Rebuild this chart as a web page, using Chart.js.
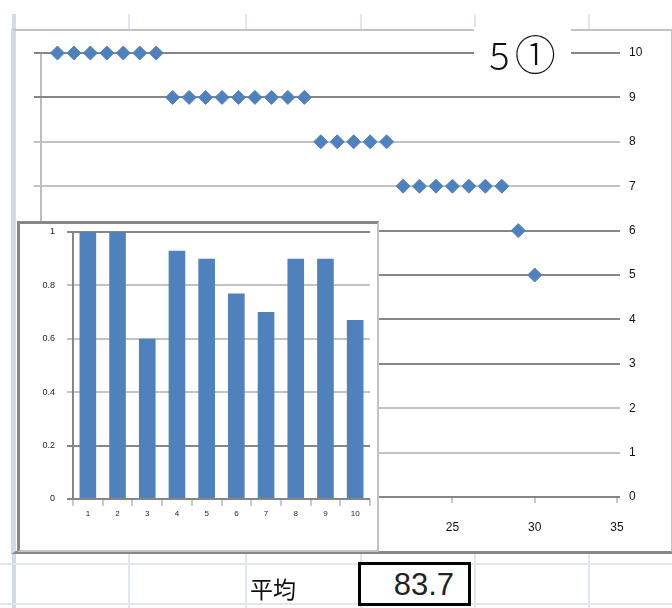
<!DOCTYPE html>
<html>
<head>
<meta charset="utf-8">
<script src="https://cdn.jsdelivr.net/npm/chart.js@4.4.1/dist/chart.umd.min.js"></script>
<style>
  body { margin: 0; width: 672px; height: 608px; position: relative; overflow: hidden; background: #fff; font-family: "Liberation Sans", sans-serif; }
  .vl { position: absolute; top: 14px; bottom: 0; width: 2px; background: #dfe6ef; }
  .hl { position: absolute; left: 0; right: 0; height: 2px; background: #dfe6ef; }
  #marco { position: absolute; left: 11px; top: 29px; width: 655px; height: 520px; background: #fff;
           border-top: 2px solid #c2c2c2; border-right: 2px solid #c2c2c2; border-bottom: 3px solid #878787; border-left: 5px solid #d0dbe7; }
  #principal { position: absolute; left: 0; top: 0; }
  #titulo { position: absolute; left: 474px; top: 27px; width: 97px; height: 50px; background: #fff;
            display: flex; align-items: center; justify-content: center;
            font-family: "Noto Sans CJK JP", sans-serif; color: #111; }
  #titulo .n { font-size: 38px; font-weight: 300; margin-right: 5px; margin-top: 2px; }
  #titulo .c { font-size: 41px; font-weight: 300; }
  #recuadro { position: absolute; left: 17px; top: 221px; width: 357px; height: 326px; background: #fff;
              border-top: 3px solid #878787; border-left: 3px solid #878787; border-right: 2px solid #c2c2c2; border-bottom: 2px solid #c2c2c2; }
  #barras { position: absolute; left: 0; top: 0; }
  #etiqueta { position: absolute; left: 250px; top: 571px; font-family: "Noto Sans CJK JP", sans-serif; font-size: 23px; color: #111; }
  #promedio { position: absolute; left: 358px; top: 562px; width: 107px; height: 38px; border: 3px solid #000; background: #fff;
              font-size: 31px; line-height: 40px; text-align: right; color: #222; }
  #promedio span { margin-right: 14px; }
</style>
</head>
<body>
<div class="vl" style="left:12px;width:4px;background:#d0dbe7"></div>
<div class="vl" style="left:128px"></div>
<div class="vl" style="left:245px"></div>
<div class="vl" style="left:360px"></div>
<div class="vl" style="left:474px"></div>
<div class="vl" style="left:588px"></div>
<div class="hl" style="top:563px"></div>
<div class="hl" style="top:603px"></div>

<div id="marco"></div>
<canvas id="principal" width="672" height="608"></canvas>
<div id="titulo"><span class="n">5</span><span class="c">①</span></div>
<div id="recuadro"><canvas id="barras" width="357" height="326"></canvas></div>
<div id="etiqueta">平均</div>
<div id="promedio"><span id="valorPromedio"></span></div>

<script>
// puntaje de cada alumno (numero -> puntaje)
const numeros = [1, 2, 3, 4, 5, 6, 7, 8, 9, 10, 11, 12, 13, 14, 15, 16, 17, 18, 19, 20, 21, 22, 23, 24, 25, 26, 27, 28, 29, 30];
const puntajes = [10, 10, 10, 10, 10, 10, 10, 9, 9, 9, 9, 9, 9, 9, 9, 9, 8, 8, 8, 8, 8, 7, 7, 7, 7, 7, 7, 7, 6, 5];

// tasa de aciertos por pregunta
const preguntas = ["1", "2", "3", "4", "5", "6", "7", "8", "9", "10"];
const aciertos = [1, 1, 0.6, 0.93, 0.9, 0.77, 0.7, 0.9, 0.9, 0.67];

const promedio = "83.7";

const azul = "#4f81bd";
const oscuro = "#868686";
const claro = "#c2c2c2";

document.getElementById("valorPromedio").textContent = promedio;

// Excel dibuja unas lineas mas oscuras que otras
function colorLineaPrincipal(v) {
  return [0, 3, 4, 5, 6, 9, 10].includes(v) ? oscuro : claro;
}

const puntos = numeros.map((n, i) => ({ x: n, y: puntajes[i] }));

new Chart(document.getElementById("principal"), {
  type: "scatter",
  data: {
    datasets: [{
      data: puntos,
      pointStyle: "rectRot",
      pointRadius: 7,
      backgroundColor: azul,
      borderColor: azul,
      borderWidth: 1,
      clip: false
    }]
  },
  options: {
    responsive: false,
    animation: false,
    layout: { padding: { left: 34, top: 53, right: 15, bottom: 71 } },
    plugins: { legend: { display: false }, tooltip: { enabled: false } },
    scales: {
      x: {
        type: "linear",
        min: 0,
        max: 35,
        ticks: { stepSize: 5, color: "#111", font: { size: 12 }, padding: 17 },
        grid: {
          color: c => (c.tick && c.tick.value === 0 ? "#bdbdbd" : "rgba(0,0,0,0)"),
          tickColor: "#c8c8c8",
          lineWidth: 2,
          tickLength: 6
        },
        border: { display: false },
        afterFit: s => { s.height = 40; }
      },
      y: {
        position: "right",
        min: 0,
        max: 10,
        ticks: { stepSize: 1, color: "#111", font: { size: 12 }, padding: 9 },
        grid: { color: c => colorLineaPrincipal(c.tick.value), lineWidth: 2, tickLength: 3 },
        border: { display: false },
        afterFit: s => { s.width = 40; }
      },
      yIzq: {
        position: "left",
        min: 0,
        max: 10,
        ticks: { stepSize: 1, display: false },
        grid: { drawOnChartArea: false, color: c => colorLineaPrincipal(c.tick.value), lineWidth: 2, tickLength: 7 },
        border: { display: false },
        afterFit: s => { s.width = 7; }
      }
    }
  }
});

const coloresBarras = [oscuro, oscuro, claro, claro, claro, oscuro];

new Chart(document.getElementById("barras"), {
  type: "bar",
  data: {
    labels: preguntas,
    datasets: [{
      data: aciertos,
      backgroundColor: azul,
      categoryPercentage: 1,
      barPercentage: 0.56
    }]
  },
  options: {
    responsive: false,
    animation: false,
    layout: { padding: { left: 13, top: 8, right: 7, bottom: 21 } },
    plugins: { legend: { display: false }, tooltip: { enabled: false } },
    scales: {
      x: {
        ticks: { color: "#222", font: { size: 8 }, padding: 3 },
        grid: { drawOnChartArea: false, tickColor: "#c8c8c8", tickLength: 7, lineWidth: 2 },
        border: { display: false },
        afterFit: s => { s.height = 30; }
      },
      y: {
        min: 0,
        max: 1,
        ticks: { stepSize: 0.2, color: "#222", font: { size: 9 }, padding: 12, callback: v => String(Number(v.toFixed(1))) },
        grid: { color: c => coloresBarras[c.index] || claro, lineWidth: 2, tickLength: 6 },
        border: { display: true, color: oscuro, width: 2 },
        afterFit: s => {
          s.width = 40;
          // el padding de las etiquetas empujaba el area hacia abajo
          s.paddingTop = 0;
          s.paddingBottom = 0;
        }
      }
    }
  }
});
</script>
</body>
</html>
